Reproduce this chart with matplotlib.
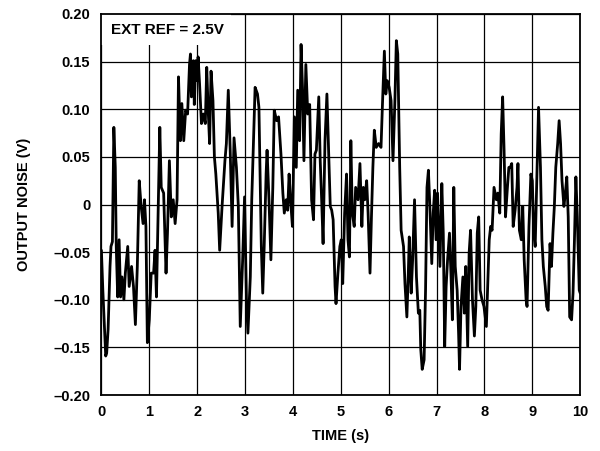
import matplotlib.pyplot as plt
from matplotlib.patches import Rectangle

plt.rcParams['font.family'] = ['Liberation Sans', 'DejaVu Sans']
plt.rcParams['font.weight'] = 'bold'

# time (s) and output noise (V)
time_s = [
    0.00, 0.03, 0.09, 0.11, 0.14, 0.18, 0.20, 0.23, 0.26, 0.29, 0.31, 0.34, 0.37, 0.40,
    0.43, 0.47, 0.50, 0.55, 0.58, 0.63, 0.67, 0.71, 0.75, 0.79, 0.83, 0.87, 0.90, 0.93,
    0.96, 1.00, 1.04, 1.09, 1.12, 1.15, 1.19, 1.22, 1.25, 1.30, 1.35, 1.38, 1.42, 1.46,
    1.50, 1.54, 1.58, 1.61, 1.65, 1.68, 1.72, 1.76, 1.80, 1.84, 1.86, 1.88, 1.92, 1.94,
    1.97, 2.00, 2.02, 2.05, 2.09, 2.13, 2.17, 2.20, 2.23, 2.26, 2.29, 2.33, 2.36, 2.39,
    2.44, 2.47, 2.52, 2.58, 2.61, 2.65, 2.69, 2.73, 2.77, 2.82, 2.86, 2.90, 2.95, 2.99,
    3.03, 3.06, 3.11, 3.14, 3.18, 3.21, 3.26, 3.29, 3.34, 3.37, 3.40, 3.44, 3.46, 3.50,
    3.54, 3.58, 3.61, 3.66, 3.70, 3.75, 3.79, 3.82, 3.86, 3.89, 3.92, 3.95, 3.99, 4.03,
    4.07, 4.10, 4.14, 4.17, 4.20, 4.23, 4.27, 4.31, 4.35, 4.39, 4.43, 4.46, 4.49, 4.54,
    4.57, 4.60, 4.63, 4.67, 4.71, 4.74, 4.78, 4.81, 4.84, 4.88, 4.90, 4.94, 4.98, 5.01,
    5.04, 5.08, 5.12, 5.15, 5.18, 5.21, 5.24, 5.28, 5.31, 5.36, 5.40, 5.44, 5.47, 5.50,
    5.54, 5.57, 5.61, 5.64, 5.67, 5.70, 5.74, 5.79, 5.84, 5.87, 5.91, 5.94, 5.97, 6.01,
    6.05, 6.09, 6.13, 6.16, 6.19, 6.23, 6.26, 6.31, 6.34, 6.38, 6.41, 6.43, 6.47, 6.50,
    6.54, 6.58, 6.62, 6.65, 6.67, 6.70, 6.74, 6.77, 6.80, 6.83, 6.86, 6.90, 6.93, 6.96,
    6.99, 7.02, 7.05, 7.07, 7.11, 7.14, 7.17, 7.20, 7.23, 7.27, 7.30, 7.33, 7.36, 7.39,
    7.43, 7.46, 7.48, 7.51, 7.55, 7.58, 7.61, 7.65, 7.68, 7.71, 7.75, 7.79, 7.82, 7.85,
    7.88, 7.91, 7.95, 7.99, 8.04, 8.07, 8.10, 8.13, 8.16, 8.20, 8.25, 8.28, 8.32, 8.35,
    8.38, 8.41, 8.44, 8.48, 8.51, 8.54, 8.57, 8.60, 8.64, 8.68, 8.70, 8.73, 8.77, 8.80,
    8.83, 8.87, 8.89, 8.93, 8.97, 9.00, 9.03, 9.06, 9.10, 9.13, 9.17, 9.20, 9.23, 9.27,
    9.30, 9.33, 9.37, 9.40, 9.43, 9.46, 9.49, 9.53, 9.56, 9.59, 9.62, 9.66, 9.69, 9.72,
    9.75, 9.78, 9.82, 9.85, 9.88, 9.91, 9.94, 9.98, 10.00,
]
noise_v = [
    -0.048, -0.090, -0.159, -0.156, -0.131, -0.065, -0.044, -0.039, 0.081, 0.039, -0.044, -0.097, -0.037, -0.097,
    -0.076, -0.100, -0.072, -0.044, -0.086, -0.065, -0.086, -0.126, -0.065, 0.025, -0.002, -0.020, 0.005, -0.023,
    -0.145, -0.121, -0.072, -0.072, -0.048, -0.097, 0.005, 0.081, 0.018, 0.012, -0.072, -0.030, 0.046, -0.013,
    0.005, -0.020, 0.005, 0.134, 0.067, 0.106, 0.067, 0.099, 0.095, 0.147, 0.158, 0.113, 0.151, 0.105,
    0.151, 0.130, 0.155, 0.127, 0.085, 0.095, 0.085, 0.144, 0.099, 0.064, 0.140, 0.109, 0.050, 0.032,
    -0.009, -0.048, -0.002, 0.046, 0.064, 0.120, 0.057, -0.023, 0.070, 0.039, -0.002, -0.128, -0.058, 0.008,
    -0.100, -0.135, -0.076, 0.005, 0.074, 0.123, 0.116, 0.102, -0.044, -0.093, -0.044, 0.032, 0.057, 0.005,
    -0.058, 0.018, 0.099, 0.088, 0.092, 0.053, 0.012, -0.009, 0.005, -0.006, 0.032, 0.005, -0.023, 0.092,
    0.039, 0.120, 0.067, 0.168, 0.123, 0.046, 0.147, 0.095, 0.105, 0.005, -0.016, 0.053, 0.057, 0.113,
    0.046, 0.005, -0.041, 0.067, 0.116, 0.064, -0.002, -0.006, -0.016, -0.086, -0.104, -0.072, -0.044, -0.037,
    -0.083, -0.009, 0.032, -0.037, -0.055, 0.067, -0.009, -0.023, 0.018, 0.005, 0.043, -0.023, 0.018, 0.005,
    0.025, -0.009, -0.072, -0.013, 0.039, 0.078, 0.060, 0.064, 0.060, 0.105, 0.161, 0.116, 0.130, 0.123,
    0.109, 0.046, 0.109, 0.172, 0.158, 0.039, -0.027, -0.044, -0.083, -0.118, -0.072, -0.034, -0.093, -0.058,
    0.005, -0.076, -0.114, -0.111, -0.152, -0.173, -0.163, -0.090, 0.018, 0.036, -0.002, -0.062, -0.009, 0.015,
    -0.037, 0.012, -0.034, -0.065, 0.022, -0.030, -0.149, -0.086, -0.058, -0.030, -0.072, -0.121, 0.018, -0.065,
    -0.090, -0.135, -0.173, -0.107, -0.076, -0.114, -0.065, -0.149, -0.051, -0.027, -0.100, -0.138, -0.107, -0.030,
    -0.013, -0.090, -0.100, -0.107, -0.128, -0.083, -0.037, -0.023, -0.027, 0.018, 0.005, 0.012, -0.009, 0.074,
    0.113, 0.057, -0.013, 0.018, 0.039, 0.039, 0.043, -0.023, -0.006, 0.018, 0.043, -0.027, -0.037, -0.002,
    -0.058, -0.100, -0.107, -0.023, 0.032, 0.025, -0.030, -0.044, 0.039, 0.102, 0.039, -0.037, -0.065, -0.086,
    -0.107, -0.111, -0.041, -0.065, -0.030, -0.002, 0.039, 0.064, 0.088, 0.064, 0.025, -0.002, 0.012, 0.029,
    -0.013, -0.118, -0.121, -0.093, -0.037, 0.029, -0.013, -0.090, -0.093,
]

x_ticks = list(range(0, 11))
y_ticks = [-0.20, -0.15, -0.10, -0.05, 0, 0.05, 0.10, 0.15, 0.20]
y_tick_labels = ['–0.20', '–0.15', '–0.10', '–0.05', '0', '0.05', '0.10', '0.15', '0.20']

fig = plt.figure(figsize=(6.0, 4.51), dpi=100)
ax = fig.add_axes([0.169, 0.124, 0.798, 0.845])

ax.plot(time_s, noise_v, color='black', linewidth=2.0, zorder=3,
        solid_joinstyle='round', solid_capstyle='round')

ax.set_xlim(0, 10)
ax.set_ylim(-0.20, 0.20)
ax.set_xticks(x_ticks)
ax.set_yticks(y_ticks)
ax.set_yticklabels(y_tick_labels)
ax.tick_params(length=0, labelsize=10.5)
ax.tick_params(axis='y', pad=8)
ax.tick_params(axis='x', pad=7)
for lab in ax.get_xticklabels() + ax.get_yticklabels():
    lab.set_fontweight('bold')

ax.set_axisbelow(True)
ax.grid(True, color='black', linewidth=0.9)
for sp in ax.spines.values():
    sp.set_linewidth(1.3)

# white box behind the label, hides the grid there
ax.add_patch(Rectangle((0, 0.167), 2.7, 0.033, facecolor='white', edgecolor='none', zorder=1))
ax.text(0.2, 0.183, 'EXT REF = 2.5V', fontsize=11, fontweight='bold', va='center', ha='left', zorder=4)

ax.set_xlabel('TIME (s)', fontsize=10.5, fontweight='bold', labelpad=7)
ax.set_ylabel('OUTPUT NOISE (V)', fontsize=10.5, fontweight='bold', labelpad=16)

fig.savefig('out.png', dpi=100)
